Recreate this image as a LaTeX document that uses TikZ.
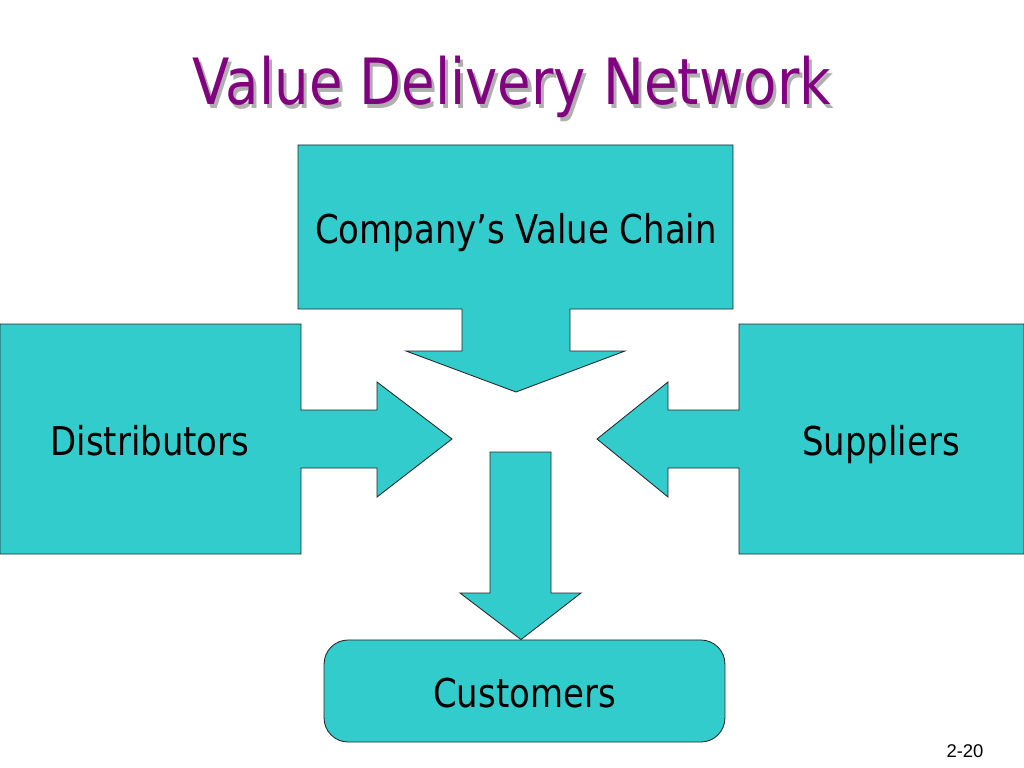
\documentclass[tikz,border=0pt]{standalone}
\usepackage{fontspec}
\newfontfamily\tahomaish[FakeStretch=0.855]{DejaVu Sans}
\newfontfamily\arialish{Liberation Sans}
\definecolor{vdTeal}{RGB}{51,204,204}
\definecolor{vdPurp}{RGB}{128,0,128}
\definecolor{vdShad}{RGB}{175,175,175}
\newcommand{\shadowed}[1]{\makebox[0pt][l]{\hspace{0.075cm}\raisebox{-0.075cm}{\textcolor{vdShad}{#1}}}#1}

\begin{document}
\begin{tikzpicture}[x=0.0248cm,y=-0.0248cm]
  \tikzset{blk/.style={draw=black!85,line width=0.6pt,fill=vdTeal,line join=miter},
           lbl/.style={anchor=base,font=\tahomaish\fontsize{28}{32}\selectfont},
           ttl/.style={anchor=base,text=vdPurp,font=\tahomaish\fontsize{45}{50}\selectfont}}
  \useasboundingbox (0,0) rectangle (1024,768);
  % title, grey shadow behind it
  \node[ttl] (title) at (512,105) {\shadowed{Value Delivery Network}};
  % company's value chain: box with arrow down
  \draw[blk] (298,145) -- (733,145) -- (733,309) -- (570,309) -- (570,351) -- (625,351)
    -- (516,392) -- (406,351) -- (462,351) -- (462,309) -- (298,309) -- cycle;
  \node[lbl] (chain) at (516,243) {Company’s Value Chain};
  % distributors: box with arrow right
  \draw[blk] (0,324) -- (301,324) -- (301,410) -- (377,410) -- (377,382) -- (452,439)
    -- (377,497) -- (377,468) -- (301,468) -- (301,554) -- (0,554) -- cycle;
  \node[lbl] (dist) at (150,455) {Distributors};
  % suppliers: box with arrow left
  \draw[blk] (1024,324) -- (739,324) -- (739,410) -- (668,410) -- (668,382) -- (597,439)
    -- (668,497) -- (668,468) -- (739,468) -- (739,554) -- (1024,554) -- cycle;
  \node[lbl] (supp) at (881,455) {Suppliers};
  % customers and the arrow into it
  \node[blk,rounded corners=17,minimum width=9.94cm,minimum height=2.53cm] (cust) at (524.5,691) {};
  \node[lbl] (custtxt) at (524.5,707) {Customers};
  \draw[blk] (490,452) -- (551,452) -- (551,593) -- (581,593) -- (cust.north -| 521,0)
    -- (460,593) -- (490,593) -- cycle;
  \node[anchor=base,font=\arialish\fontsize{13}{15}\selectfont] (pgno) at (965,757) {2-20};
\end{tikzpicture}
\end{document}
